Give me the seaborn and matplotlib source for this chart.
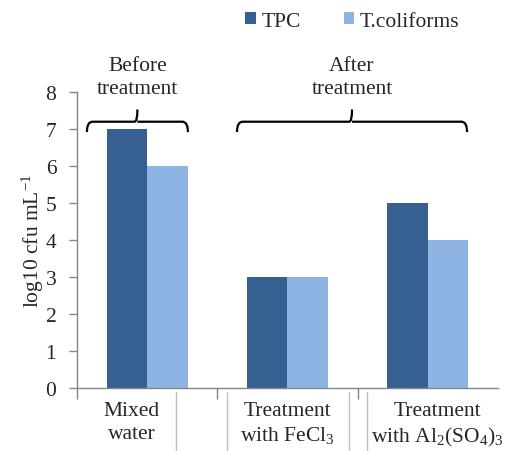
import numpy as np
import pandas as pd
import seaborn as sb
import matplotlib.pyplot as plt
from matplotlib.path import Path
from matplotlib.patches import PathPatch
import matplotlib.transforms as mtransforms

# data
categories = ['Mixed water', 'Treatment with FeCl3', 'Treatment with Al2(SO4)3']
series = ['TPC', 'T.coliforms']
tpc = [7, 3, 5]
coliforms = [6, 3, 4]
tick_labels = ['Mixed\nwater', 'Treatment\nwith FeCl$_3$', 'Treatment\nwith Al$_2$(SO$_4$)$_3$']
colors = ['#376092', '#8DB4E2']

sb.set_style('white')
plt.rcParams['font.family'] = ['Liberation Serif', 'DejaVu Serif']
plt.rcParams['mathtext.fontset'] = 'custom'
plt.rcParams['mathtext.rm'] = 'Liberation Serif'
plt.rcParams['mathtext.it'] = 'Liberation Serif:italic'
FS = 15.5

df = pd.DataFrame({
    'category': categories * 2,
    'series': [series[0]] * 3 + [series[1]] * 3,
    'value': tpc + coliforms,
})

fig = plt.figure(figsize=(5.28, 4.52), dpi=100)
ax = fig.add_axes([0.146, 0.139, 0.797, 0.655])
sb.barplot(data=df, x='category', y='value', hue='series', palette=colors,
           width=0.58, saturation=1, gap=0, linewidth=0, ax=ax, legend=True)

ax.set_xlim(-0.5, 2.5)
ax.set_ylim(0, 8)
ax.set_yticks(range(0, 9))
ax.tick_params(axis='y', labelsize=FS, length=6, width=1, color='#868686', pad=9, left=True)
ax.set_xlabel('')
ax.set_ylabel('log10 cfu mL$^{-1}$', fontsize=FS)
ax.yaxis.set_label_coords(-0.075, 0.5)
for s in ['top', 'right']:
    ax.spines[s].set_visible(False)
for s in ['left', 'bottom']:
    ax.spines[s].set_color('#868686')
    ax.spines[s].set_linewidth(1)

# ticks at category boundaries, labels as text
ax.set_xticks([-0.5, 0.5, 1.5])
ax.set_xticklabels([])
ax.tick_params(axis='x', length=8, width=1, color='#868686', bottom=True)
label_x = [-0.11, 1.0, 2.07]
trans = mtransforms.blended_transform_factory(ax.transData, ax.transAxes)
for x, lab in zip(label_x, tick_labels):
    ax.text(x, -0.045, lab, transform=trans, ha='center', va='top',
            fontsize=FS, linespacing=1.25)

# grey separator lines under the axis
for x in [0.205, 0.568, 1.436, 1.564]:
    ax.plot([x, x], [-0.012, -0.25], color='#BFBFBF', lw=1, transform=trans, clip_on=False)


# curly brackets over groups
def bracket(ax, x0, x1, xm, y, drop, peak):
    r = 0.04
    verts = [(x0, y - drop), (x0, y), (x0 + r, y), (xm - r * 0.5, y), (xm, y),
             (xm, y + peak), (xm, y), (xm + r * 0.5, y), (x1 - r, y), (x1, y), (x1, y - drop)]
    codes = [Path.MOVETO, Path.CURVE3, Path.CURVE3, Path.LINETO, Path.CURVE3, Path.LINETO,
             Path.MOVETO, Path.CURVE3, Path.LINETO, Path.CURVE3, Path.CURVE3]
    ax.add_patch(PathPatch(Path(verts, codes), fill=False, lw=1.6, color='black', clip_on=False))


bracket(ax, -0.43, 0.29, -0.07, 7.2, 0.28, 0.33)
bracket(ax, 0.64, 2.28, 1.46, 7.2, 0.28, 0.33)
ax.text(-0.07, 8.4, 'Before\ntreatment', ha='center', va='center', fontsize=FS, linespacing=1.3)
ax.text(1.46, 8.4, 'After\ntreatment', ha='center', va='center', fontsize=FS, linespacing=1.3)

# legend on top
handles, labels = ax.get_legend_handles_labels()
ax.get_legend().remove()
fig.legend(handles, labels, loc='center', bbox_to_anchor=(0.667, 0.951), ncol=2,
           frameon=False, fontsize=FS, handlelength=0.5, handleheight=0.5,
           handletextpad=0.25, columnspacing=2.0)

plt.savefig('out.png', dpi=100)
